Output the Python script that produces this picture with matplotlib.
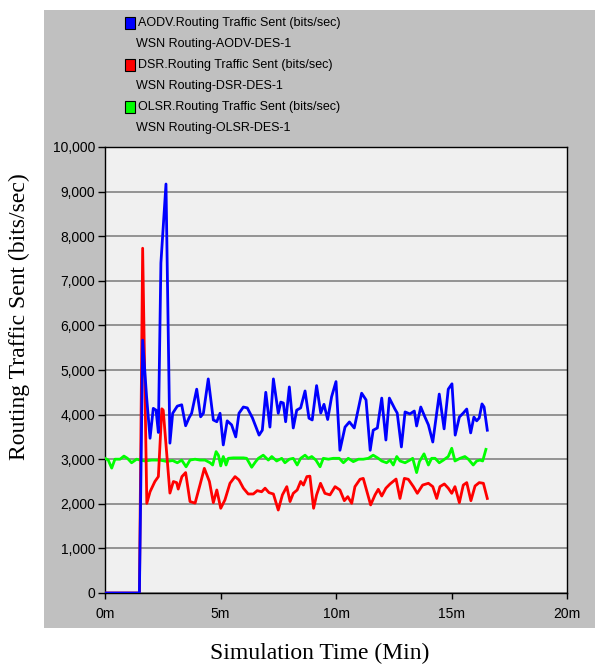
import matplotlib
matplotlib.use("Agg")
import matplotlib.pyplot as plt
from matplotlib.patches import Rectangle

# ---------------- data ----------------
aodv_t = [0.00, 1.49, 1.63, 1.80, 1.95, 2.09, 2.21, 2.31, 2.42, 2.64, 2.81, 2.93, 3.13, 3.32, 3.49,
          3.64, 3.75, 3.97, 4.14, 4.26, 4.47, 4.69, 4.84, 4.98, 5.12, 5.29, 5.48, 5.66, 5.80, 5.99,
          6.16, 6.38, 6.67, 6.81, 6.96, 7.14, 7.29, 7.50, 7.61, 7.72, 7.82, 7.98, 8.15, 8.30, 8.47,
          8.66, 8.83, 8.97, 9.16, 9.34, 9.48, 9.64, 9.81, 10.00, 10.17, 10.39, 10.58, 10.79, 11.11,
          11.30, 11.48, 11.61, 11.79, 11.98, 12.16, 12.31, 12.55, 12.65, 12.83, 12.99, 13.20, 13.39,
          13.49, 13.67, 13.85, 14.00, 14.19, 14.47, 14.68, 14.86, 15.02, 15.16, 15.34, 15.51, 15.66,
          15.83, 15.97, 16.09, 16.20, 16.32, 16.41, 16.55]
aodv_v = [0, 0, 5670, 4400, 3470, 4140, 4100, 3600, 7400, 9170, 3360, 4030, 4190, 4220, 3750,
          3930, 4030, 4570, 3950, 4030, 4800, 3880, 3840, 4030, 3320, 3860, 3770, 3500, 4030, 4170,
          4150, 3930, 3540, 3650, 4500, 3720, 4800, 4030, 4280, 4260, 3840, 4620, 3700, 4100, 4150,
          4530, 3920, 3880, 4650, 4035, 4230, 3890, 4400, 4740, 3200, 3720, 3835, 3700, 4480,
          4330, 3200, 3650, 3700, 4370, 3430, 4370, 4125, 4035, 3275, 4060, 4015, 4080,
          3745, 4170, 3945, 3770, 3385, 4460, 3680, 4570, 4690, 3540, 3945, 4035, 4125,
          3590, 3945, 3860, 3925, 4240, 4170, 3650]

dsr_t = [0.00, 1.49, 1.63, 1.81, 1.95, 2.16, 2.31, 2.46, 2.52, 2.81, 2.96, 3.10, 3.17, 3.33, 3.49,
         3.68, 3.90, 4.11, 4.30, 4.52, 4.69, 4.84, 5.01, 5.19, 5.41, 5.63, 5.80, 5.99, 6.20, 6.42,
         6.59, 6.78, 6.93, 7.10, 7.29, 7.50, 7.68, 7.87, 8.01, 8.15, 8.32, 8.47, 8.59, 8.74, 8.87,
         9.03, 9.16, 9.33, 9.52, 9.74, 9.96, 10.17, 10.36, 10.51, 10.68, 10.82, 11.04, 11.18, 11.50,
         11.69, 11.83, 11.98, 12.16, 12.34, 12.60, 12.77, 12.96, 13.13, 13.35, 13.52, 13.75, 14.00,
         14.19, 14.36, 14.50, 14.69, 14.86, 15.01, 15.15, 15.34, 15.51, 15.66, 15.84, 16.02, 16.20,
         16.38, 16.55]
dsr_v = [0, 0, 7730, 2010, 2270, 2500, 2610, 4130, 4100, 2240, 2500, 2475, 2330, 2610, 2700,
         2050, 2015, 2420, 2795, 2500, 2025, 2310, 1900, 2085, 2460, 2610, 2535, 2350, 2220, 2220,
         2295, 2270, 2350, 2250, 2220, 1860, 2200, 2385, 2050, 2235, 2310, 2500, 2420, 2610, 2620,
         1900, 2200, 2460, 2235, 2200, 2385, 2310, 2070, 2160, 2010, 2385, 2550, 2570, 1975,
         2200, 2325, 2175, 2350, 2445, 2555, 2120, 2570, 2550, 2385, 2235, 2420, 2460,
         2385, 2120, 2385, 2445, 2350, 2235, 2385, 2025, 2420, 2475, 2070, 2400, 2475,
         2460, 2120]

olsr_t = [0.00, 0.14, 0.29, 0.43, 0.65, 0.82, 0.97, 1.15, 1.37, 1.52, 1.73, 2.02, 2.38, 2.67, 2.93,
          3.13, 3.32, 3.51, 3.68, 3.90, 4.11, 4.33, 4.55, 4.66, 4.81, 4.91, 5.01, 5.12, 5.24, 5.34,
          5.55, 5.77, 5.99, 6.13, 6.35, 6.52, 6.64, 6.85, 7.07, 7.22, 7.43, 7.65, 7.79, 7.98, 8.15,
          8.32, 8.47, 8.66, 8.80, 8.95, 9.13, 9.31, 9.45, 9.67, 9.88, 10.14, 10.32, 10.53, 10.75,
          10.97, 11.18, 11.40, 11.61, 11.83, 11.98, 12.19, 12.34, 12.48, 12.63, 12.77, 12.99, 13.20,
          13.32, 13.49, 13.61, 13.81, 14.00, 14.14, 14.29, 14.47, 14.65, 14.86, 15.01, 15.15, 15.37,
          15.58, 15.73, 15.94, 16.09, 16.23, 16.35, 16.49]
olsr_v = [3020, 2980, 2800, 3000, 3000, 3070, 3020, 2920, 3000, 2980, 2960, 2980, 2980, 2950, 2970,
          2920, 2980, 2830, 2980, 3000, 2980, 2980, 2920, 2870, 3170, 3090, 2850, 3060, 2870, 3020,
          3030, 3030, 3030, 3020, 2820, 2945, 3020, 3090, 2980, 3060, 2960, 3020, 2920, 3000, 3020,
          2870, 3020, 3090, 3020, 3060, 2980, 2830, 3020, 3000, 3020, 3020, 2920, 3020, 2945,
          3000, 3000, 3020, 3090, 3020, 2960, 2920, 2980, 2870, 3060, 2960, 2920, 2980,
          3020, 2700, 2945, 3120, 2870, 3020, 3020, 2920, 2980, 3060, 3245, 2960, 3020,
          3060, 3000, 2870, 2960, 2980, 2960, 3220]

legend_titles = ["AODV.Routing Traffic Sent (bits/sec)",
                 "DSR.Routing Traffic Sent (bits/sec)",
                 "OLSR.Routing Traffic Sent (bits/sec)"]
legend_subtitles = ["WSN Routing-AODV-DES-1",
                    "WSN Routing-DSR-DES-1",
                    "WSN Routing-OLSR-DES-1"]
series_colors = ["#0000FF", "#FF0000", "#00FF00"]

y_ticks = [0, 1000, 2000, 3000, 4000, 5000, 6000, 7000, 8000, 9000, 10000]
y_tick_labels = ["0", "1,000", "2,000", "3,000", "4,000", "5,000", "6,000",
                 "7,000", "8,000", "9,000", "10,000"]
x_ticks = [0, 5, 10, 15, 20]
x_tick_labels = ["0m", "5m", "10m", "15m", "20m"]

x_label = "Simulation Time (Min)"
y_label = "Routing Traffic Sent (bits/sec)"

# ---------------- figure ----------------
W, H = 595, 666
fig = plt.figure(figsize=(W / 100, H / 100), dpi=100)
fig.patch.set_facecolor("white")

def fx(px):
    return px / W

def fy(py):
    return 1 - py / H

# gray panel (drawn beneath the axes)
fig.patches.append(Rectangle((fx(44), fy(628)), fx(595) - fx(44), fy(10) - fy(628),
                             transform=fig.transFigure, facecolor="#C0C0C0",
                             edgecolor="none", zorder=-10))

ax = fig.add_axes([fx(105), fy(593), fx(567) - fx(105), fy(147) - fy(593)])
ax.set_zorder(1)
ax.set_facecolor("#F0F0F0")
ax.set_xlim(0, 20)
ax.set_ylim(0, 10000)

for s in ax.spines.values():
    s.set_color("black")
    s.set_linewidth(1.0)

ax.set_yticks(y_ticks)
ax.set_yticklabels(y_tick_labels, family="Liberation Sans", fontsize=10)
ax.set_xticks(x_ticks)
ax.set_xticklabels(x_tick_labels, family="Liberation Sans", fontsize=10)
ax.tick_params(axis="y", direction="out", length=5, width=1, pad=2)
ax.tick_params(axis="x", direction="out", length=4, width=1, pad=6)

ax.yaxis.grid(True, color="#7A7A7A", linewidth=1.1)
ax.xaxis.grid(False)
ax.set_axisbelow(True)

series = [(olsr_t, olsr_v, series_colors[2]),
          (dsr_t, dsr_v, series_colors[1]),
          (aodv_t, aodv_v, series_colors[0])]
for t, v, c in series:
    ax.plot(t, v, color=c, linewidth=2.0, solid_joinstyle="round", zorder=3)

# legend (manual, two lines per entry)
row_y = [23, 65, 107]
for i in range(3):
    y0 = row_y[i]
    fig.patches.append(Rectangle((fx(125), fy(y0 + 5.5)), fx(10), 11 / H,
                                 transform=fig.transFigure, facecolor=series_colors[i],
                                 edgecolor="black", linewidth=0.8, zorder=2))
    fig.text(fx(138), fy(y0), legend_titles[i], family="Liberation Sans",
             fontsize=9, ha="left", va="center")
    fig.text(fx(136), fy(y0 + 21), legend_subtitles[i], family="Liberation Sans",
             fontsize=9, ha="left", va="center")

fig.text(fx(19), fy(317), y_label, family="Liberation Serif", fontsize=17,
         rotation=90, ha="center", va="center")
fig.text(fx(320), fy(653), x_label, family="Liberation Serif", fontsize=17,
         ha="center", va="center")

fig.savefig("out.png", dpi=100)
